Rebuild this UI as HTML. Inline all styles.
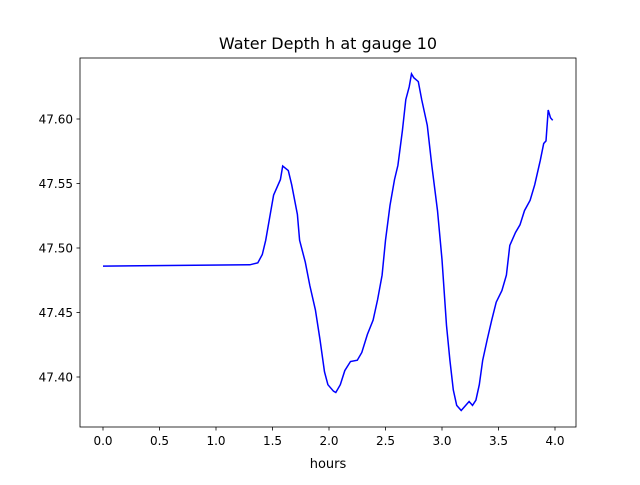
<!DOCTYPE html>
<html><head><meta charset="utf-8"><style>
body{margin:0;background:#fff;}
svg text{font-family:"DejaVu Sans","Liberation Sans",sans-serif;}
</style></head><body>
<svg id="chart" width="640" height="480" xmlns="http://www.w3.org/2000/svg">
<rect width="640" height="480" fill="#fff"/>
<text x="328" y="49" font-size="16" text-anchor="middle">Water Depth h at gauge 10</text>
<g id="plot"></g>
<text x="328" y="468" font-size="13" text-anchor="middle">hours</text>
</svg>
<script>
const times=[0,1.30,1.37,1.41,1.44,1.48,1.51,1.57,1.59,1.64,1.67,1.72,1.74,1.79,1.83,1.88,1.92,1.96,1.99,2.04,2.06,2.10,2.14,2.19,2.25,2.29,2.34,2.39,2.43,2.47,2.50,2.54,2.58,2.61,2.65,2.68,2.71,2.73,2.75,2.79,2.82,2.87,2.91,2.96,3.00,3.04,3.07,3.10,3.13,3.17,3.21,3.24,3.27,3.30,3.33,3.36,3.40,3.44,3.48,3.53,3.57,3.60,3.65,3.69,3.73,3.78,3.82,3.87,3.90,3.92,3.94,3.96,3.98];
const depths=[47.486,47.487,47.4885,47.495,47.506,47.526,47.541,47.553,47.5636,47.560,47.549,47.526,47.506,47.489,47.471,47.452,47.429,47.404,47.394,47.389,47.388,47.394,47.405,47.412,47.413,47.419,47.433,47.444,47.460,47.479,47.506,47.533,47.553,47.564,47.591,47.615,47.625,47.635,47.632,47.629,47.615,47.595,47.564,47.529,47.491,47.440,47.413,47.390,47.378,47.374,47.378,47.381,47.378,47.382,47.394,47.413,47.429,47.444,47.458,47.467,47.479,47.502,47.512,47.518,47.529,47.537,47.549,47.568,47.581,47.583,47.607,47.601,47.599];
const xTicks=[0,0.5,1,1.5,2,2.5,3,3.5,4];
const xTickLabels=["0.0","0.5","1.0","1.5","2.0","2.5","3.0","3.5","4.0"];
const yTicks=[47.40,47.45,47.50,47.55,47.60];
const yTickLabels=["47.40","47.45","47.50","47.55","47.60"];
const L=80,R=576,T=58,B=427;
const xS=t=>103+t*113;
const yS=v=>119+(47.60-v)*1290;
const NS="http://www.w3.org/2000/svg";
const g=document.getElementById('plot');
function mk(tag,attrs){const e=document.createElementNS(NS,tag);for(const k in attrs)e.setAttribute(k,attrs[k]);g.appendChild(e);return e;}
const line=mk('polyline',{points:times.map((t,i)=>xS(t).toFixed(1)+','+yS(depths[i]).toFixed(1)).join(' '),fill:'none',stroke:'#0000ff','stroke-width':1.5});


xTicks.forEach((t,i)=>{
 const tk=mk('line',{x1:xS(t),x2:xS(t),y1:B,y2:B+3.5,stroke:'#000','stroke-width':0.8});
 
 
 const tx=mk('text',{x:xS(t),y:B+18,'font-size':12,'text-anchor':'middle'});
 tx.textContent=xTickLabels[i];
 
 
});
yTicks.forEach((v,i)=>{
 const tk=mk('line',{x1:L-3.5,x2:L,y1:yS(v),y2:yS(v),stroke:'#000','stroke-width':0.8});
 
 
 const tx=mk('text',{x:L-7,y:yS(v)+4.5,'font-size':12,'text-anchor':'end'});
 tx.textContent=yTickLabels[i];
 
 
});
const frame=mk('rect',{x:L,y:T,width:R-L,height:B-T,fill:'none',stroke:'#000','stroke-width':0.8});


</script>
</body></html>
